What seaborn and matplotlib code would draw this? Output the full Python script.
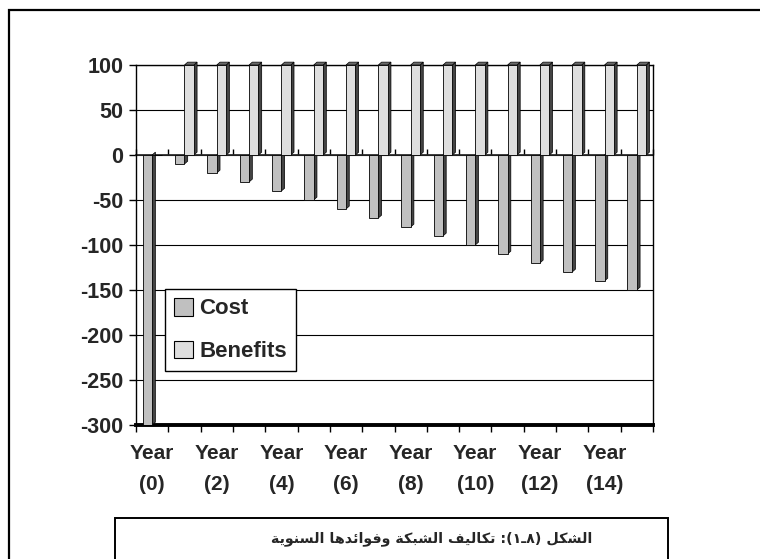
"""Annual network costs and benefits, drawn as an Excel-style bar chart."""
import numpy as np
import pandas as pd
import matplotlib
matplotlib.use("Agg")
import matplotlib.pyplot as plt
from matplotlib.patches import Patch, Polygon, Rectangle
import seaborn as sns

# Data.
years = list(range(16))
cost = [-300, -10, -20, -30, -40, -50, -60, -70, -80, -90, -100, -110, -120,
        -130, -140, -150]
benefits = [0] + [100] * 15
series_names = ["Cost", "Benefits"]
labelled_years = years[::2]
y_ticks = list(range(-300, 101, 50))

# Caption, already shaped and put in visual (left to right) order because
# matplotlib does no Arabic shaping or bidi.
caption_words = [
    "\uFE94\uFEF3\uFEEE\uFEE8\uFEB4\uFEDF\uFE8D",          # السنوية
    "\uFE8E\uFEEB\uFEAA\uFE8B\uFE8D\uFEEE\uFED3\uFEED",    # وفوائدها
    "\uFE94\uFEDC\uFE92\uFEB8\uFEDF\uFE8D",                # الشبكة
    "\uFED2\uFEF4\uFEDF\uFE8E\uFEDC\uFE97",                # تكاليف
    ":(\u0661\u0640\u0668)",                               # (٨ـ١):
    "\uFEDE\uFEDC\uFEB8\uFEDF\uFE8D",                      # الشكل
]
caption = " ".join(caption_words)

colours = ["#c0c0c0", "#dedede"]
side_colour = "#444444"
top_colour = "#6a6a6a"

df = pd.DataFrame({
    "year": [str(y) for y in years] * 2,
    "value": cost + benefits,
    "series": [series_names[0]] * len(years) + [series_names[1]] * len(years),
})

sns.set_theme(style="white")
plt.rcParams["font.family"] = ["Liberation Sans", "DejaVu Sans"]
plt.rcParams["font.weight"] = "bold"

fig = plt.figure(figsize=(7.6, 5.59), dpi=100)
ax = fig.add_axes([136 / 760, 1 - 425 / 559, 517 / 760, 360 / 559])

sns.barplot(
    data=df,
    x="year",
    y="value",
    hue="series",
    order=[str(y) for y in years],
    hue_order=series_names,
    palette=colours,
    width=0.58,
    edgecolor="black",
    linewidth=0.6,
    saturation=1,
    legend=False,
    ax=ax,
    zorder=3,
)

ax.set_xlim(-0.5, len(years) - 0.5)
ax.set_ylim(y_ticks[0], y_ticks[-1])

# Fake 3D: dark side and top faces taken from each drawn bar.
dx = 0.1
dy = 3.2
for bar in list(ax.patches):
    x0, w = bar.get_x(), bar.get_width()
    bottom = min(bar.get_y(), bar.get_y() + bar.get_height())
    top = max(bar.get_y(), bar.get_y() + bar.get_height())
    if top == bottom:
        continue
    x1 = x0 + w
    ax.add_patch(Polygon(
        [(x1, bottom), (x1 + dx, bottom + dy), (x1 + dx, top + dy), (x1, top)],
        closed=True, facecolor=side_colour, edgecolor="black", lw=0.5,
        zorder=2.8, clip_on=False,
    ))
    if top > 0:
        ax.add_patch(Polygon(
            [(x0, top), (x0 + dx, top + dy), (x1 + dx, top + dy), (x1, top)],
            closed=True, facecolor=top_colour, edgecolor="black", lw=0.5,
            zorder=2.8, clip_on=False,
        ))

# Gridlines and frame.
ax.yaxis.grid(True, color="black", linewidth=0.8)
ax.xaxis.grid(False)
ax.set_axisbelow(True)
for side, spine in ax.spines.items():
    spine.set_visible(True)
    spine.set_color("black")
    spine.set_linewidth(1.0)
ax.spines["bottom"].set_linewidth(2.8)

# Y axis.
ax.set_yticks(y_ticks)
ax.set_yticklabels([str(v) for v in y_ticks], fontsize=15.5, fontweight="bold")
ax.tick_params(axis="y", direction="out", length=5, width=1, color="black",
               pad=4, left=True)

# X axis: ticks at category boundaries, labels on every other year.
boundaries = np.arange(-0.5, len(years), 1)
ax.set_xticks(boundaries)
ax.set_xticklabels([])
ax.set_xticks(labelled_years, minor=True)
ax.set_xticklabels([f"Year\n({y})" for y in labelled_years], minor=True,
                   fontsize=15, fontweight="bold")
ax.tick_params(axis="x", which="major", direction="out", length=5, width=1,
               color="black", bottom=True)
ax.tick_params(axis="x", which="minor", length=0, pad=14)
for label in ax.get_xticklabels(minor=True):
    label.set_linespacing(1.75)
ax.set_xlabel("")
ax.set_ylabel("")

# Category axis crossing at zero with its own tick marks.
zero_pos = (0 - y_ticks[0]) / (y_ticks[-1] - y_ticks[0])
zero_axis = ax.secondary_xaxis(zero_pos)
zero_axis.set_xticks(boundaries)
zero_axis.set_xticklabels([])
zero_axis.tick_params(direction="out", length=4, width=1, color="black")
zero_axis.spines["bottom"].set_linewidth(1.3)
zero_axis.set_zorder(2)

# Legend.
handles = [Patch(facecolor=c, edgecolor="black", linewidth=0.8) for c in colours]
ax.legend(
    handles,
    series_names,
    loc="lower left",
    bbox_to_anchor=(0.056, 0.15),
    frameon=True,
    fancybox=False,
    framealpha=1,
    edgecolor="black",
    prop={"size": 16, "weight": "bold"},
    handlelength=0.85,
    handleheight=0.85,
    handletextpad=0.3,
    labelspacing=0.95,
    borderpad=0.4,
    borderaxespad=0,
)

# Outer frame and caption box.
fig.patches.append(Rectangle(
    (9 / 760, -0.1), 1.0, 1.1 - 10 / 559, transform=fig.transFigure,
    fill=False, edgecolor="black", linewidth=1.6, clip_on=False,
))
fig.patches.append(Rectangle(
    (115 / 760, -0.05), 553 / 760, 0.05 + (559 - 518) / 559,
    transform=fig.transFigure, fill=False, edgecolor="black", linewidth=1.4,
    clip_on=False,
))
fig.text(432 / 760, 1 - 539 / 559, caption, ha="center", va="center",
         fontsize=10.3, fontweight="bold", family=["DejaVu Sans"])

fig.savefig("out.png", dpi=100)
